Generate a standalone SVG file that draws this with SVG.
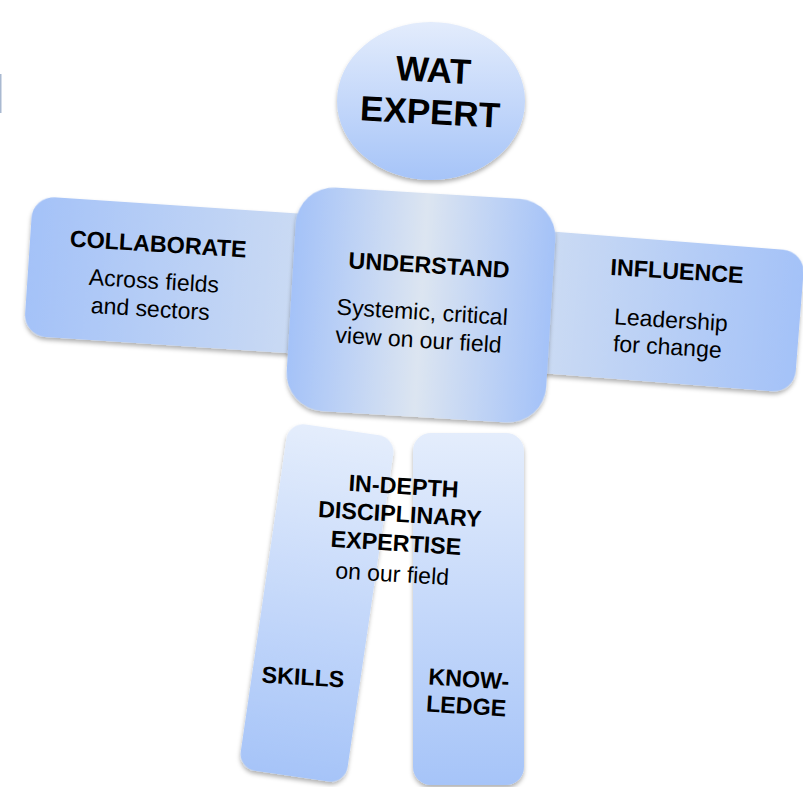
<svg xmlns="http://www.w3.org/2000/svg" width="803" height="787" viewBox="0 0 803 787">
<defs>
<linearGradient id="gHead" x1="0" y1="0" x2="0" y2="1"><stop offset="0" stop-color="#e3ecfc"/><stop offset="1" stop-color="#a6c4f8"/></linearGradient>
<linearGradient id="gArmL" x1="0" y1="0" x2="1" y2="0"><stop offset="0" stop-color="#a4c2f8"/><stop offset="1" stop-color="#cddcf3"/></linearGradient>
<linearGradient id="gArmR" x1="0" y1="0" x2="1" y2="0"><stop offset="0" stop-color="#cddcf3"/><stop offset="1" stop-color="#a4c2f8"/></linearGradient>
<linearGradient id="gTorso" x1="0" y1="0" x2="1" y2="0"><stop offset="0" stop-color="#a4c2f8"/><stop offset="0.5" stop-color="#dce5f1"/><stop offset="1" stop-color="#a4c2f8"/></linearGradient>
<linearGradient id="gLeg" x1="0" y1="0" x2="0" y2="1"><stop offset="0" stop-color="#e4edfc"/><stop offset="1" stop-color="#a6c4f8"/></linearGradient>
<filter id="sh" x="-10%" y="-10%" width="120%" height="125%"><feDropShadow dx="0" dy="3" stdDeviation="2" flood-color="#000" flood-opacity="0.3"/></filter>
</defs>
<style>
text{font-family:"Liberation Sans",Arial,sans-serif;fill:#000;text-anchor:middle}
.b{font-weight:bold;font-size:23.3px}
.r{font-size:23px}
.h{font-weight:bold;font-size:35px}
</style>
<rect x="0" y="74" width="1.5" height="39" fill="#a9b9d1"/>
<g id="collaborate">
<g transform="translate(168,275) rotate(3.8)"><rect x="-140" y="-70" width="290" height="140" rx="22" fill="url(#gArmL)" filter="url(#sh)"/></g>
<g transform="rotate(3.5,158,248)"><text class="b" x="158" y="252">COLLABORATE</text><text class="r" x="156" y="289">Across fields</text><text class="r" x="154" y="317">and sectors</text></g>
</g>
<g id="influence">
<g transform="translate(670,312) rotate(4.5)"><rect x="-140" y="-71" width="270" height="142" rx="22" fill="url(#gArmR)" filter="url(#sh)"/></g>
<g transform="rotate(3.5,676,272)"><text class="b" x="677" y="279">INFLUENCE</text><text class="r" x="674" y="328">Leadership</text><text class="r" x="672" y="355">for change</text></g>
</g>
<g id="skills">
<g transform="translate(317,603) rotate(8.3)"><rect x="-54" y="-175" width="108" height="350" rx="17" fill="url(#gLeg)" filter="url(#sh)"/></g>
<text class="b" x="303" y="685" transform="rotate(3.5,303,677)">SKILLS</text>
</g>
<g id="knowledge">
<rect x="413" y="433" width="111" height="352" rx="18" fill="url(#gLeg)" filter="url(#sh)"/>
<g transform="rotate(3.5,467,693)"><text class="b" x="468" y="687">KNOW-</text><text class="b" x="467" y="714">LEDGE</text></g>
</g>
<g id="understand">
<g transform="translate(421,305) rotate(3.5)"><rect x="-130" y="-112" width="260" height="224" rx="38" fill="url(#gTorso)" filter="url(#sh)"/></g>
<g transform="rotate(3.5,425,300)"><text class="b" x="427" y="273">UNDERSTAND</text><text class="r" x="423" y="320">Systemic, critical</text><text class="r" x="421" y="348">view on our field</text></g>
</g>
<g id="expertise">
<g transform="rotate(3.5,399,528)"><text class="b" x="401" y="494">IN-DEPTH</text><text class="b" x="399" y="522">DISCIPLINARY</text><text class="b" x="397" y="551">EXPERTISE</text><text class="r" x="395" y="582">on our field</text></g>
</g>
<g id="head">
<ellipse cx="431" cy="101" rx="94" ry="79" fill="url(#gHead)" filter="url(#sh)"/>
<g transform="rotate(3,431,96)"><text class="h" x="432" y="82">WAT</text><text class="h" x="431" y="124">EXPERT</text></g>
</g>
</svg>
